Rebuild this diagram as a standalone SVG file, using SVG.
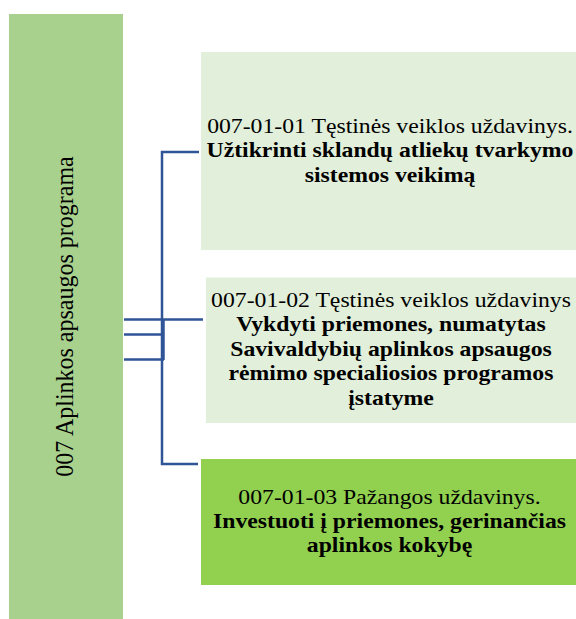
<svg xmlns="http://www.w3.org/2000/svg" width="576" height="619" viewBox="0 0 576 619">
<style>
.t{font-family:"Liberation Serif","Times New Roman",serif;font-size:21px;fill:#000;text-anchor:middle}
.b{font-weight:bold}
.c{fill:none;stroke:#2f5597;stroke-width:2.5}
</style>
<rect width="576" height="619" fill="#ffffff"/>
<g id="connectors">
<line class="c" x1="162" y1="151" x2="162" y2="465"/>
<line class="c" x1="161" y1="152" x2="199" y2="152"/>
<line class="c" x1="161" y1="464" x2="198" y2="464"/>
<line class="c" x1="124" y1="319.5" x2="203" y2="319.5"/>
<line class="c" x1="124" y1="334.5" x2="164" y2="334.5"/>
<line class="c" x1="124" y1="359.5" x2="164" y2="359.5"/>
<line class="c" x1="163.5" y1="319" x2="163.5" y2="360"/>
</g>
<g id="program">
<rect x="9" y="14" width="114" height="605" fill="#a9d18e"/>
<text class="t" font-size="24" transform="translate(73,316.5) rotate(-90) scale(1,1.09)" x="0" y="0" style="font-size:24px">007 Aplinkos apsaugos programa</text>
</g>
<g id="task1">
<rect x="201" y="52" width="375" height="198" fill="#e2efda"/>
<g transform="translate(390,0) scale(1.13,1)">
<text class="t" x="0" y="133">007-01-01 Tęstinės veiklos uždavinys.</text>
<text class="t b" x="0" y="157.5">Užtikrinti sklandų atliekų tvarkymo</text>
<text class="t b" x="0" y="182">sistemos veikimą</text>
</g>
</g>
<g id="task2">
<rect x="206" y="277.5" width="370" height="145.5" fill="#e2efda"/>
<g transform="translate(391,0) scale(1.13,1)">
<text class="t" x="0" y="307">007-01-02 Tęstinės veiklos uždavinys</text>
<text class="t b" x="0" y="331.5">Vykdyti priemones, numatytas</text>
<text class="t b" x="0" y="356">Savivaldybių aplinkos apsaugos</text>
<text class="t b" x="0" y="380.5">rėmimo specialiosios programos</text>
<text class="t b" x="0" y="405">įstatyme</text>
</g>
</g>
<g id="task3">
<rect x="201" y="459" width="375" height="126" fill="#92d050"/>
<g transform="translate(389.5,0) scale(1.13,1)">
<text class="t" x="0" y="504">007-01-03 Pažangos uždavinys.</text>
<text class="t b" x="0" y="528">Investuoti į priemones, gerinančias</text>
<text class="t b" x="0" y="552">aplinkos kokybę</text>
</g>
</g>
</svg>
